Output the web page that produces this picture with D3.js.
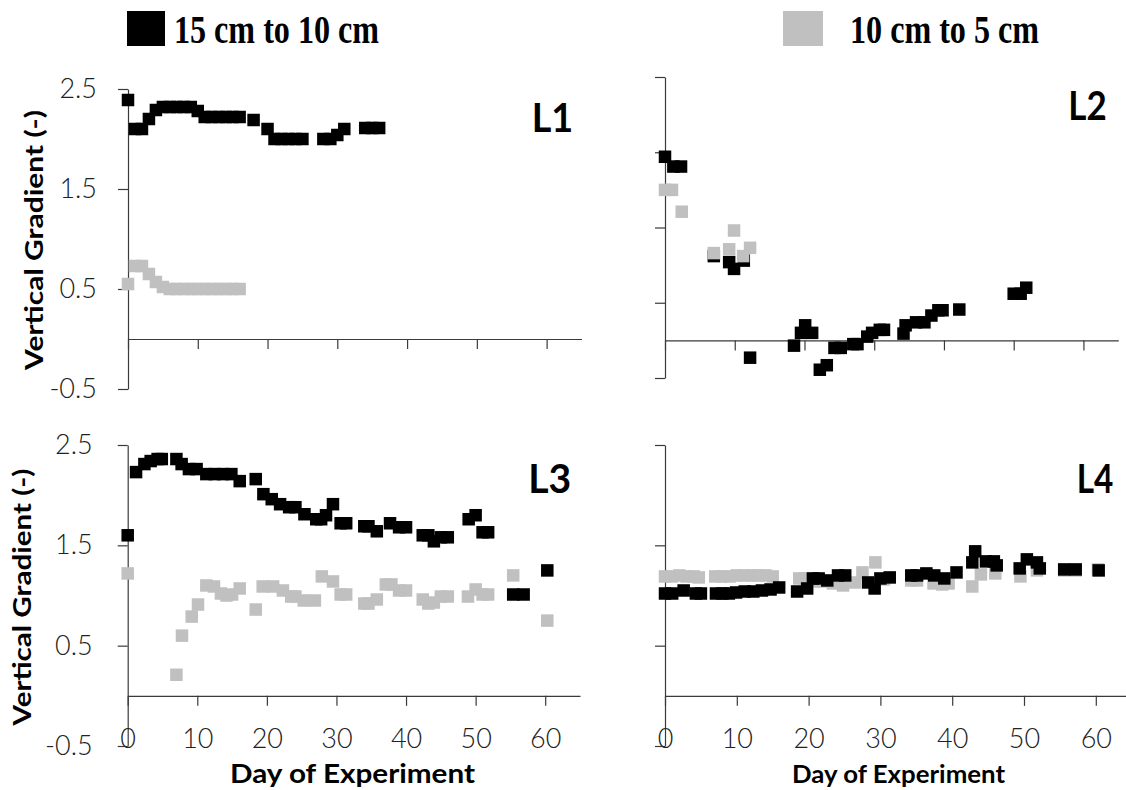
<!DOCTYPE html>
<html>
<head>
<meta charset="utf-8">
<script src="https://cdn.jsdelivr.net/npm/d3@7"></script>
<style>
body { margin: 0; background: #fff; }
svg { display: block; }
.ax path, .ax line { stroke: #3a3a3a; stroke-width: 1.2; }
.ax text { font-family: Lato, sans-serif; font-size: 27px; font-weight: 300; fill: #222; }
</style>
</head>
<body>
<svg id="chart" width="1126" height="790"></svg>
<script>
// values: [day, vertical gradient]
const seriesNames = ["15 cm to 10 cm", "10 cm to 5 cm"];
const seriesColors = ["#000000", "#c0c0c0"];
const panelNames = ["L1", "L2", "L3", "L4"];
const dayTicks = [0, 10, 20, 30, 40, 50, 60];
const gradTicks = [-0.5, 0.5, 1.5, 2.5];
const gradTicksL2 = [-0.5, 0.5, 1.5, 2.5, 3.5];

const l1Black = [[0,2.39],[1,2.10],[2,2.10],[3,2.20],[4,2.29],[5,2.32],[6,2.32],[7,2.32],[8,2.32],[9,2.32],[10,2.28],
  [11,2.22],[12,2.22],[13,2.22],[14,2.22],[15,2.22],[16,2.22],[18,2.19],[20,2.10],[21,2.00],[22,2.00],[23,2.00],
  [24,2.00],[25,2.00],[28,2.00],[29,2.00],[30,2.04],[31,2.10],[34,2.11],[35,2.11],[36,2.11]];
const l1Gray = [[0,0.55],[1,0.73],[2,0.73],[3,0.65],[4,0.57],[5,0.52],[6,0.50],[7,0.50],[8,0.50],[9,0.50],
  [10,0.50],[11,0.50],[12,0.50],[13,0.50],[14,0.50],[15,0.50],[16,0.50]];

const l2Black = [[0,2.44],[1.2,2.31],[2.3,2.31],[7,1.12],[9.2,1.04],[9.9,0.95],[11.3,1.06],[12.2,-0.23],
  [18.5,-0.07],[19.5,0.10],[20.1,0.20],[21.1,0.10],[22.2,-0.39],[23.2,-0.33],[24.3,-0.10],[25.2,-0.10],
  [27,-0.05],[27.6,-0.05],[29,0.05],[29.7,0.10],[30.8,0.14],[31.4,0.14],[34.2,0.09],[34.5,0.20],[36,0.24],
  [37.2,0.24],[38.2,0.33],[39.2,0.40],[39.8,0.40],[42.2,0.41],[50,0.62],[51,0.62],[51.8,0.70]];
const l2Gray = [[0,2.00],[1,2.00],[2.4,1.71],[7,1.16],[9.2,1.21],[9.9,1.46],[11.2,1.12],[12.2,1.23]];

const l3Black = [[0,1.60],[1.2,2.23],[2.4,2.31],[3.3,2.34],[4.3,2.36],[4.9,2.36],[7,2.36],[7.75,2.31],[8.8,2.26],
  [9.9,2.26],[11.3,2.21],[12.5,2.21],[13.7,2.21],[14.9,2.21],[16.1,2.14],[18.4,2.16],[19.5,2.01],[20.7,1.96],
  [21.9,1.91],[23.2,1.88],[24.1,1.88],[25.4,1.81],[27.1,1.76],[27.8,1.76],[28.5,1.80],[29.5,1.91],[30.6,1.72],
  [31.4,1.72],[34,1.69],[34.6,1.69],[35.8,1.64],[37.7,1.72],[39,1.68],[40,1.68],[42.4,1.60],[43.2,1.60],
  [44,1.54],[45,1.58],[46,1.58],[49,1.76],[50,1.80],[51,1.63],[51.8,1.63],[55.4,1.01],[56.9,1.01],[60.3,1.25]];
const l3Gray = [[0,1.22],[7,0.21],[7.8,0.60],[9.2,0.79],[10.1,0.91],[11.3,1.10],[12.4,1.09],[13.4,1.02],[14.2,1.00],
  [15,1.01],[16.1,1.07],[18.4,0.86],[19.4,1.09],[20.9,1.09],[22.3,1.05],[23.5,0.99],[24.1,0.99],[25.3,0.95],
  [26.9,0.95],[27.9,1.19],[29.5,1.14],[30.6,1.01],[31.4,1.01],[34,0.92],[34.6,0.92],[35.8,0.96],[37.1,1.11],
  [37.9,1.11],[39,1.05],[40,1.05],[42.4,0.96],[43.2,0.92],[44,0.93],[45,0.99],[46,0.99],[48.9,0.99],[50,1.06],
  [51,1.01],[51.8,1.01],[55.4,1.20],[60.3,0.75]];

const l4Black = [[0,1.02],[1,1.02],[2.6,1.05],[4.3,1.02],[5,1.02],[7.1,1.02],[8,1.02],[8.9,1.02],[9.9,1.03],
  [11.1,1.04],[12.3,1.04],[13.5,1.05],[14.7,1.06],[15.9,1.08],[18.4,1.04],[19.8,1.07],[20.6,1.17],[21.4,1.17],
  [22.6,1.15],[24.1,1.20],[25.1,1.20],[28.3,1.13],[29.2,1.07],[30,1.17],[31.3,1.18],[34.3,1.20],[35.1,1.20],
  [36.4,1.22],[37.5,1.20],[38.9,1.17],[40.6,1.23],[42.8,1.33],[43.2,1.44],[44.7,1.34],[45.8,1.34],[46.2,1.30],
  [49.4,1.27],[50.4,1.36],[51.8,1.33],[52.2,1.27],[55.6,1.26],[57.2,1.26],[60.4,1.25]];
const l4Gray = [[0,1.19],[1,1.19],[2,1.20],[3,1.19],[4,1.19],[4.7,1.18],[7,1.19],[8,1.19],[9,1.19],[10,1.20],
  [11,1.20],[12,1.20],[13,1.20],[14,1.20],[15,1.19],[18.7,1.17],[19.4,1.17],[21,1.14],[22,1.14],[23.4,1.12],
  [24.8,1.10],[26.5,1.13],[27.5,1.23],[29.3,1.33],[30.5,1.16],[34.3,1.15],[35.1,1.15],[37.4,1.12],[38.6,1.11],
  [39.5,1.12],[42.8,1.09],[44,1.21],[46,1.22],[49.5,1.19],[51.8,1.25],[55.6,1.25],[57.2,1.25],[60.3,1.26]];

const svg = d3.select('#chart');
const mk = 12.5;

function fitText(sel, w) {
    return sel.attr('textLength', w).attr('lengthAdjust', 'spacingAndGlyphs');
}

// legend
svg.append('rect').attr('x', 127).attr('y', 11).attr('width', 38).attr('height', 35).attr('fill', seriesColors[0]);
svg.append('rect').attr('x', 783).attr('y', 11).attr('width', 40).attr('height', 35).attr('fill', seriesColors[1]);
[[174, 205], [850, 189]].forEach(function(p, i) {
    svg.append('text').attr('x', p[0]).attr('y', 43)
        .style('font-family', '"Liberation Serif", "Times New Roman", serif')
        .style('font-weight', 'bold').style('font-size', '40px')
        .text(seriesNames[i]).call(fitText, p[1]);
});

const panels = [
  { name: panelNames[0], data: [l1Black, l1Gray], xr: [128, 581.5], yr: [389, 89], ticks: gradTicks,
    yLab: true, yPad: 21, xLab: false, grayOnTop: true,
    lab: [531.7, 131.7, 41.6], yTitle: [43, 240, 260] },
  { name: panelNames[1], data: [l2Black, l2Gray], xr: [665, 1118.3], yr: [378, 77], ticks: gradTicksL2,
    yLab: false, yPad: 21, xLab: false, grayOnTop: true,
    lab: [1068.3, 120, 38.4] },
  { name: panelNames[2], data: [l3Black, l3Gray], xr: [127.7, 580], yr: [746, 445], ticks: gradTicks,
    yLab: true, yPad: 25, xLab: true, grayOnTop: true,
    lab: [528.3, 493, 43], yTitle: [31, 597, 257], xTitle: [230, 783, 245, 27] },
  { name: panelNames[3], data: [l4Black, l4Gray], xr: [665, 1131.7], yr: [746, 445], ticks: gradTicks,
    yLab: false, yPad: 21, xLab: true, grayOnTop: false,
    lab: [1076.7, 493, 36.6], xTitle: [792, 783, 213, 24] }
];

panels.forEach(function(p, pi) {
    var x = d3.scaleLinear().domain([0, 65]).range(p.xr);
    var y = d3.scaleLinear().domain([p.ticks[0], p.ticks[p.ticks.length - 1]]).range(p.yr);
    var g = svg.append('g');

    var yAxis = d3.axisLeft(y).tickValues(p.ticks).tickSize(10).tickSizeOuter(0).tickPadding(p.yPad)
        .tickFormat(p.yLab ? function(d) { return String(d); } : '');
    g.append('g').attr('class', 'ax').attr('transform', 'translate(' + p.xr[0] + ',0)').call(yAxis);

    var xAxis = d3.axisBottom(x).tickValues(dayTicks).tickSize(10).tickSizeOuter(0).tickPadding(23)
        .tickFormat(p.xLab ? function(d) { return String(d); } : '');
    g.append('g').attr('class', 'ax').attr('transform', 'translate(0,' + y(0) + ')').call(xAxis);

    var clipId = 'clip' + pi;
    svg.append('clipPath').attr('id', clipId).append('rect')
        .attr('x', p.xr[0] - 10).attr('y', p.yr[1] - 10)
        .attr('width', p.xr[1] - p.xr[0] + 10).attr('height', p.yr[0] - p.yr[1] + 10);

    var order = p.grayOnTop ? [0, 1] : [1, 0];
    var marks = g.append('g').attr('clip-path', 'url(#' + clipId + ')');
    order.forEach(function(si) {
        marks.append('g').selectAll('rect').data(p.data[si]).enter().append('rect')
            .attr('x', function(d) { return x(d[0]) - mk / 2; })
            .attr('y', function(d) { return y(d[1]) - mk / 2; })
            .attr('width', mk).attr('height', mk)
            .attr('fill', seriesColors[si]);
    });

    g.append('text').attr('x', p.lab[0]).attr('y', p.lab[1])
        .style('font-family', 'Lato, sans-serif').style('font-weight', 'bold').style('font-size', '40px')
        .text(p.name).call(fitText, p.lab[2]);

    if (p.yTitle) {
        g.append('text')
            .attr('transform', 'translate(' + p.yTitle[0] + ',' + p.yTitle[1] + ') rotate(-90)')
            .attr('text-anchor', 'middle')
            .style('font-family', 'Lato, sans-serif').style('font-weight', 'bold').style('font-size', '25px')
            .text('Vertical Gradient (-)').call(fitText, p.yTitle[2]);
    }
    if (p.xTitle) {
        g.append('text').attr('x', p.xTitle[0]).attr('y', p.xTitle[1])
            .style('font-family', 'Lato, sans-serif').style('font-weight', 'bold')
            .style('font-size', p.xTitle[3] + 'px')
            .text('Day of Experiment').call(fitText, p.xTitle[2]);
    }
});
</script>
</body>
</html>
